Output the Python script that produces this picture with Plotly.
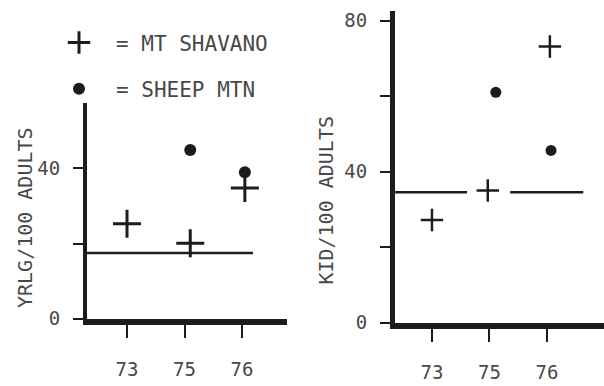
import plotly.graph_objects as go

# ---- data ----
years = ["73", "75", "76"]
tick_pos = [0, 1, 2]

# Left panel: yearlings per 100 adults
yrlg_shavano_x = [0.0, 1.1, 2.05]
yrlg_shavano = [25.3, 20.1, 34.8]
yrlg_sheep_x = [1.1, 2.05]
yrlg_sheep = [44.9, 39.0]
yrlg_ref_x = [-0.7, 2.19]
yrlg_ref = [17.5, 17.5]

# Right panel: kids per 100 adults
kid_shavano_x = [0.0, 0.97, 2.05]
kid_shavano = [27.2, 35.0, 73.1]
kid_sheep_x = [1.11, 2.07]
kid_sheep = [61.0, 45.6]
kid_ref_x = [-0.64, 0.61, None, 1.36, 2.63]
kid_ref = [34.5, 34.5, None, 34.5, 34.5]

left_yticks = [0, 20, 40]
left_yticklabels = ["0", "", "40"]
right_yticks = [0, 20, 40, 60, 80]
right_yticklabels = ["0", "", "40", "", "80"]

INK = "#1c1c1c"
TXT = "#484848"
MONO = "DejaVu Sans Mono"

fig = go.Figure()

# left panel
fig.add_trace(go.Scatter(x=yrlg_ref_x, y=yrlg_ref, mode="lines",
                         line=dict(color=INK, width=2.5), showlegend=False,
                         xaxis="x", yaxis="y"))
fig.add_trace(go.Scatter(x=yrlg_shavano_x, y=yrlg_shavano, mode="markers",
                         name="= MT SHAVANO", legendgroup="a",
                         marker=dict(symbol="cross-thin", size=20,
                                     line=dict(color=INK, width=3)),
                         xaxis="x", yaxis="y"))
fig.add_trace(go.Scatter(x=yrlg_sheep_x, y=yrlg_sheep, mode="markers",
                         name="= SHEEP MTN", legendgroup="b",
                         marker=dict(symbol="circle", size=12, color=INK),
                         xaxis="x", yaxis="y"))

# right panel
fig.add_trace(go.Scatter(x=kid_ref_x, y=kid_ref, mode="lines",
                         line=dict(color=INK, width=2.5), showlegend=False,
                         xaxis="x2", yaxis="y2"))
fig.add_trace(go.Scatter(x=kid_shavano_x, y=kid_shavano, mode="markers",
                         showlegend=False,
                         marker=dict(symbol="cross-thin", size=16,
                                     line=dict(color=INK, width=2.5)),
                         xaxis="x2", yaxis="y2"))
fig.add_trace(go.Scatter(x=kid_sheep_x, y=kid_sheep, mode="markers",
                         showlegend=False,
                         marker=dict(symbol="circle", size=11, color=INK),
                         xaxis="x2", yaxis="y2"))

W, H = 604, 386

def xdom(a, b):
    return [a / W, b / W]

def ydom(top, bottom):
    return [(H - bottom) / H, (H - top) / H]

common_x = dict(tickmode="array", tickvals=tick_pos, ticktext=years,
                showgrid=False, zeroline=False, showline=True,
                linecolor=INK, ticks="outside", ticklen=13, tickwidth=2,
                tickcolor=INK, ticklabelstandoff=15,
                tickfont=dict(family=MONO, size=19, color=TXT))
common_y = dict(tickmode="array", showgrid=False, zeroline=False,
                showline=True, linecolor=INK, ticks="outside", ticklen=10,
                tickwidth=2, tickcolor=INK, ticklabelstandoff=9,
                tickfont=dict(family=MONO, size=19, color=TXT))

fig.update_layout(
    width=W, height=H,
    margin=dict(l=0, r=0, t=0, b=0),
    paper_bgcolor="white", plot_bgcolor="white",
    xaxis=dict(domain=xdom(87, 287), range=[-0.696, 2.783], linewidth=6,
               anchor="y", **common_x),
    yaxis=dict(domain=ydom(105, 328), range=[0, 57.5], linewidth=4,
               tickvals=left_yticks, ticktext=left_yticklabels,
               anchor="x", **common_y),
    xaxis2=dict(domain=xdom(395, 604), range=[-0.643, 2.991], linewidth=6,
                anchor="y2", **common_x),
    yaxis2=dict(domain=ydom(10, 332), range=[0, 82.6], linewidth=5,
                tickvals=right_yticks, ticktext=right_yticklabels,
                anchor="x2", **common_y),
    showlegend=True,
    legend=dict(x=42 / W, y=1 - 22 / H, xanchor="left", yanchor="top",
                font=dict(family=MONO, size=21, color=TXT),
                itemwidth=64, tracegroupgap=16, bgcolor="rgba(0,0,0,0)",
                traceorder="grouped", itemsizing="trace"),
    annotations=[
        dict(text="YRLG/100 ADULTS", textangle=-90, showarrow=False,
             xref="paper", yref="paper", x=25 / W, y=(H - 224) / H,
             xanchor="center", yanchor="middle",
             font=dict(family=MONO, size=20, color=TXT)),
        dict(text="KID/100 ADULTS", textangle=-90, showarrow=False,
             xref="paper", yref="paper", x=326 / W, y=(H - 206) / H,
             xanchor="center", yanchor="middle",
             font=dict(family=MONO, size=20, color=TXT)),
    ],
)

fig.write_html("out.html")
